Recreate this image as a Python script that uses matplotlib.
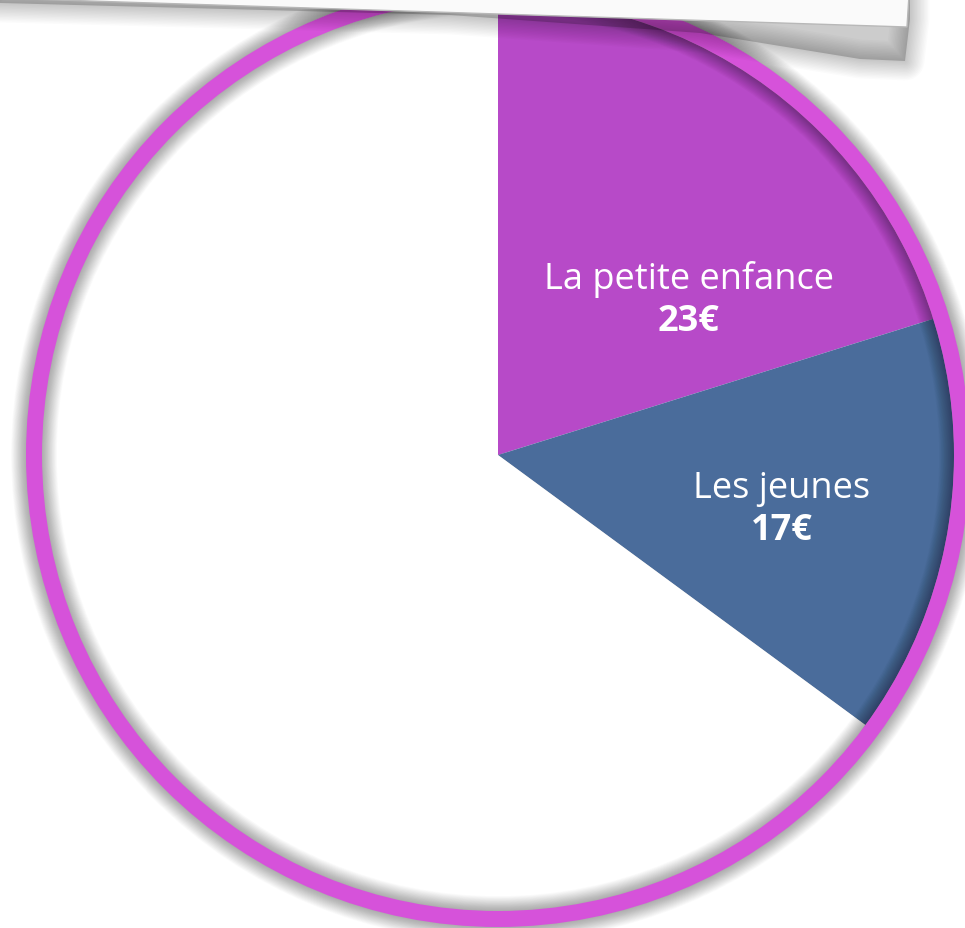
import matplotlib
matplotlib.use("Agg")
import matplotlib.pyplot as plt
from matplotlib.patches import Circle, Wedge, Polygon

# Données
categories = ["La petite enfance", "Les jeunes", ""]
values = [23, 17, 74]
value_labels = ["23€", "17€", ""]

# Style
COL_SLICES = ["#b74ac8", "#4a6c9b", "#ffffff"]
COL_RING = "#d652da"
FONT = ["Open Sans", "DejaVu Sans"]

W, H = 965, 929
CX, CY = 498, H - 456
R_PIE = 456
R_RING = 464

fig = plt.figure(figsize=(W / 100, H / 100), dpi=100)
ax = fig.add_axes([0, 0, 1, 1])


def soft_shadow(make_patch, widths, alpha, z):
    # ombre floue : couches superposées de traits de plus en plus larges
    for w in widths:
        p = make_patch()
        p.set_facecolor("none")
        p.set_edgecolor((0, 0, 0, alpha))
        p.set_linewidth(w)
        p.set_joinstyle("round")
        p.set_zorder(z)
        ax.add_patch(p)


# ==================== camembert ====================
wedges, _ = ax.pie(values, colors=COL_SLICES, startangle=90, counterclock=False,
                   center=(CX, CY), radius=R_PIE, frame=True,
                   wedgeprops=dict(linewidth=0, zorder=2))
ax.set_xlim(0, W)
ax.set_ylim(0, H)
ax.set_aspect("equal")
ax.axis("off")

# ombre des parts colorées
t1 = min(w.theta1 for w in wedges[:2])
t2 = max(w.theta2 for w in wedges[:2])
soft_shadow(lambda: Wedge((CX, CY), R_PIE, t1, t2), range(1, 14, 1), 0.018, 1)

# anneau + ombre
soft_shadow(lambda: Circle((CX, CY), R_RING), range(12, 34, 1), 0.014, 3)
ax.add_patch(Circle((CX, CY), R_RING, fill=False, edgecolor=COL_RING,
                    linewidth=16 * 0.72, zorder=4))

# étiquettes
label_pos = [(689, H - 280), (782, H - 489)]
for name, val, (lx, ly) in zip(categories, value_labels, label_pos):
    if not name:
        continue
    ax.text(lx, ly, name, color="white", fontsize=26, ha="center", va="center",
            family=FONT, zorder=5)
    ax.text(lx, ly - 42, val, color="white", fontsize=26, fontweight="bold",
            ha="center", va="center", family=FONT, zorder=5)

# ==================== feuille de papier en haut ====================
shadow_pts = [(0, H - 4), (450, H - 16), (700, H - 34), (860, H - 60),
              (905, H - 62), (910, H - 20), (910, H + 10), (0, H + 10)]
soft_shadow(lambda: Polygon(shadow_pts, closed=True), range(2, 30, 2), 0.016, 6)
ax.add_patch(Polygon(shadow_pts, closed=True, facecolor=(0, 0, 0, 0.2),
                     edgecolor="none", zorder=6))
card = [(-5, H + 1), (907, H - 28), (910, H + 20), (-5, H + 20)]
ax.add_patch(Polygon(card, closed=True, facecolor="#fafafa", edgecolor="#b8b8b8",
                     linewidth=1, zorder=7))

fig.savefig("out.png", dpi=100)
